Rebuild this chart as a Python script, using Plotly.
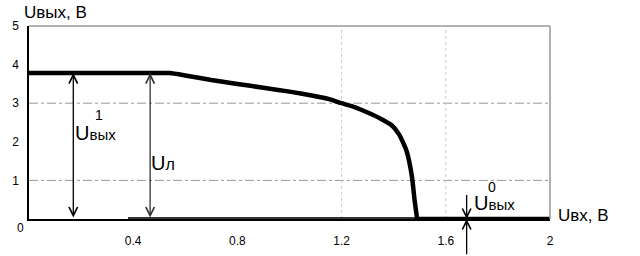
import plotly.graph_objects as go

# transfer characteristic of the logic element (high level + transition)
u_in = [0, 0.1, 0.2, 0.3, 0.4, 0.5, 0.54, 0.6, 0.7, 0.8, 0.9, 1.0, 1.1, 1.155, 1.2,
        1.25, 1.3, 1.35, 1.39, 1.42, 1.45, 1.47, 1.48, 1.49]
u_out = [3.78, 3.78, 3.78, 3.78, 3.78, 3.78, 3.78, 3.72, 3.6, 3.5, 3.4, 3.3, 3.18, 3.1, 3.0,
         2.9, 2.76, 2.6, 2.44, 2.2, 1.75, 1.1, 0.5, 0.0]
# low-level tail of the characteristic
tail_x = [1.49, 2.0]
tail_y = [0.0, 0.0]

# low-level segment along the axis
low_x = [0.38, 1.49]
low_y = [0.0, 0.0]

x_ticks = [0.4, 0.8, 1.2, 1.6, 2]
x_tick_text = ["0.4", "0.8", "1.2", "1.6", "2"]
y_ticks = [1, 2, 3, 4, 5]
y_tick_text = ["1", "2", "3", "4", "5"]

grid_y = [1, 3]
grid_x = [1.2, 1.6]

u1_x = 0.17
ul_x = 0.465
u0_x = 1.68
u_high = 3.78

FONT = "Arial, Liberation Sans, sans-serif"

fig = go.Figure()
fig.add_trace(go.Scatter(x=low_x, y=low_y, mode="lines",
                         line=dict(color="#333333", width=4), hoverinfo="skip"))
fig.add_trace(go.Scatter(x=u_in, y=u_out, mode="lines",
                         line=dict(color="black", width=4.5, shape="spline", smoothing=0.6),
                         hoverinfo="skip"))
fig.add_trace(go.Scatter(x=tail_x, y=tail_y, mode="lines",
                         line=dict(color="black", width=4.5), hoverinfo="skip"))

shapes = []
for gy in grid_y:
    shapes.append(dict(type="line", xref="x", yref="y", x0=0, x1=2, y0=gy, y1=gy,
                       line=dict(color="#999999", width=1, dash="dashdot"), layer="below"))
for gx in grid_x:
    shapes.append(dict(type="line", xref="x", yref="y", x0=gx, x1=gx, y0=0, y1=5,
                       line=dict(color="#c8c8c8", width=1, dash="dot"), layer="below"))
# gray frame top / right
shapes.append(dict(type="line", xref="paper", yref="paper", x0=0, x1=1, y0=1, y1=1,
                   line=dict(color="#999999", width=1.5)))
shapes.append(dict(type="line", xref="paper", yref="paper", x0=1, x1=1, y0=0, y1=1,
                   line=dict(color="#999999", width=1.5)))

ann = []
def arrow(x, y_head, y_tail, both=False, color="black"):
    d = dict(x=x, y=y_head, ax=x, ay=y_tail, xref="x", yref="y", axref="x", ayref="y",
             showarrow=True, arrowhead=5, arrowsize=1.3, arrowwidth=1.3, arrowcolor=color,
             text="")
    if both:
        d.update(arrowside="end+start", startarrowhead=5, startarrowsize=1.3)
    return d

ann.append(arrow(u1_x, u_high, 0, both=True))
ann.append(arrow(ul_x, u_high, 0, both=True, color="#333333"))
ann.append(arrow(u0_x, 0, 0.66))
ann.append(arrow(u0_x, 0, -0.95))

def label(x, y, text, size, xanchor="left", yanchor="middle", xref="x", yref="y"):
    return dict(x=x, y=y, xref=xref, yref=yref, text=text, showarrow=False,
                xanchor=xanchor, yanchor=yanchor, font=dict(family=FONT, size=size, color="black"))

sub = "<span style='font-size:15px'>вых</span>"
ann.append(label(0.17, 2.22, "U" + sub, 20))
ann.append(label(0.268, 2.7, "1", 14, xanchor="center"))
ann.append(label(0.462, 1.44, "U<span style='font-size:16px'>л</span>", 20))
ann.append(label(1.7, 0.41, "U" + sub, 20))
ann.append(label(1.778, 0.84, "0", 14, xanchor="center"))
ann.append(label(-0.014, 1.07, "Uвых, В", 17, xref="paper", yref="paper"))
ann.append(label(1.012, 0.018, "Uвх, В", 17, xref="paper", yref="paper"))
ann.append(label(-0.017, -0.048, "0", 12, xanchor="center", xref="paper", yref="paper"))

fig.update_layout(
    width=640, height=256,
    margin=dict(l=29, r=90, t=26, b=37),
    paper_bgcolor="white", plot_bgcolor="white",
    showlegend=False,
    shapes=shapes, annotations=ann,
    font=dict(family=FONT, size=12, color="black"),
    xaxis=dict(range=[0, 2], showgrid=False, zeroline=False, showline=True, automargin=False,
               linecolor="black", linewidth=1.5, tickvals=x_ticks, ticktext=x_tick_text,
               ticks="", ticklabelstandoff=10, tickfont=dict(size=12)),
    yaxis=dict(range=[0, 5], showgrid=False, zeroline=False, showline=True, automargin=False,
               linecolor="black", linewidth=1.5, tickvals=y_ticks, ticktext=y_tick_text,
               ticks="", ticklabelstandoff=6, tickfont=dict(size=12)),
)

fig.write_html("out.html")
